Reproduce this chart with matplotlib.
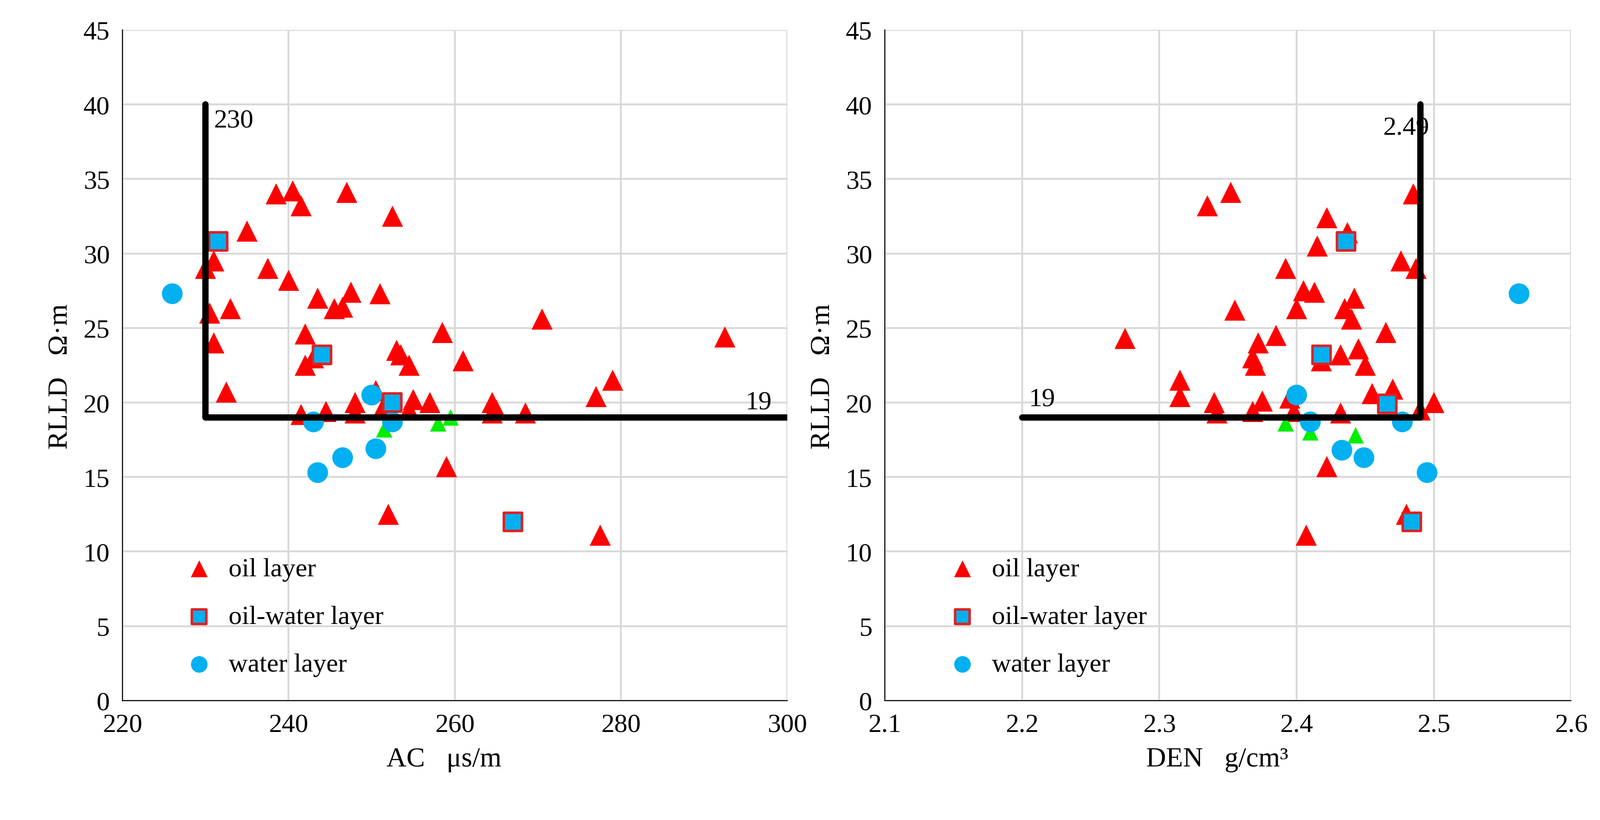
import matplotlib
matplotlib.use("Agg")
import matplotlib.pyplot as plt

plt.rcParams["font.family"] = ["Liberation Serif", "Noto Sans CJK SC"]

# Left panel: AC vs RLLD
ac_oil = [230,231,230.5,231,233,232.5,235,238.5,240.5,241.5,237.5,240,243.5,245.5,246.5,247.5,251,252.5,247,242,242,243,241.5,244.5,248,248,250.5,251.5,253,253.5,254.5,254.5,255,257,258.5,261,264.5,264.5,265,268.5,270.5,277,279,292.5,259,252,277.5]
ac_oil_r = [29,29.5,26,24,26.3,20.7,31.5,34,34.2,33.2,29,28.2,27,26.3,26.4,27.4,27.3,32.5,34.1,24.6,22.5,23,19.2,19.4,19.3,20,20.8,19.8,23.5,23.2,22.5,19.5,20.2,20,24.7,22.8,20,19.3,19.5,19.3,25.6,20.4,21.5,24.4,15.7,12.5,11.1]
ac_green = [251.5,258,259.5]
ac_green_r = [18.2,18.6,19]
ac_ow = [231.5,244,252.5,267]
ac_ow_r = [30.8,23.2,20,12]
ac_w = [226,243,243.5,246.5,250.5,250,252.5]
ac_w_r = [27.3,18.7,15.3,16.3,16.9,20.5,18.7]

# Right panel: DEN vs RLLD
den_oil = [2.275,2.315,2.315,2.335,2.352,2.34,2.342,2.355,2.368,2.37,2.372,2.368,2.375,2.385,2.392,2.395,2.398,2.4,2.405,2.413,2.415,2.418,2.422,2.432,2.432,2.435,2.437,2.44,2.442,2.445,2.45,2.455,2.465,2.47,2.476,2.485,2.487,2.49,2.5,2.422,2.407,2.48]
den_oil_r = [24.3,21.5,20.4,33.2,34.1,20,19.3,26.2,23,22.5,24,19.4,20.1,24.5,29,20.3,19.4,26.3,27.5,27.4,30.5,22.8,32.4,23.2,19.3,26.3,31.4,25.6,27,23.6,22.5,20.6,24.7,20.9,29.5,34,29,19.5,20,15.7,11.1,12.5]
den_green = [2.392,2.41,2.443]
den_green_r = [18.6,18,17.8]
den_ow = [2.436,2.418,2.466,2.484]
den_ow_r = [30.8,23.2,19.9,12]
den_w = [2.4,2.41,2.433,2.449,2.477,2.495,2.562]
den_w_r = [20.5,18.7,16.8,16.3,18.7,15.3,27.3]

fig = plt.figure(figsize=(17.64, 9.04), dpi=200)
axL = fig.add_axes([0.0765, 0.1455, 0.4155, 0.8175])
axR = fig.add_axes([0.553, 0.1455, 0.429, 0.8175])

RED = "#ff0000"; BLUE = "#00b0f0"; GREEN = "#00ee00"

def draw(ax, xo, yo, xg, yg, xs, ys, xw, yw):
    ax.scatter(xo, yo, marker="^", s=280, c=RED, edgecolors="none", zorder=3, label="oil layer")
    ax.scatter(xg, yg, marker="^", s=170, c=GREEN, edgecolors="none", zorder=3)
    ax.scatter(xs, ys, marker="s", s=210, c=BLUE, edgecolors="#e02020", linewidths=2, zorder=4, label="oil-water layer")
    ax.scatter(xw, yw, marker="o", s=270, c=BLUE, edgecolors="none", zorder=3, label="water layer")
    ax.set_ylim(0, 45)
    ax.set_yticks(range(0, 46, 5))
    ax.grid(True, color="#d9d9d9", linewidth=1.5, zorder=0)
    ax.set_axisbelow(True)
    for s in ["top", "right"]:
        ax.spines[s].set_visible(False)
    ax.tick_params(labelsize=21, direction="in", length=0, pad=10)
    ax.set_ylabel("RLLD（Ω·m）", fontsize=22, labelpad=8)
    ax.legend(loc="lower left", frameon=False, fontsize=21, handletextpad=0.1,
              labelspacing=0.9, bbox_to_anchor=(0.04, 0.0), markerscale=0.8)

draw(axL, ac_oil, ac_oil_r, ac_green, ac_green_r, ac_ow, ac_ow_r, ac_w, ac_w_r)
axL.set_xlim(220, 300)
axL.set_xticks(range(220, 301, 20))
axL.set_xlabel("AC（μs/m）", fontsize=22, labelpad=8)
axL.plot([230, 230, 300], [40, 19, 19], color="black", lw=5, zorder=5, solid_capstyle="round")
axL.text(231, 38.5, "230", fontsize=21, zorder=6)
axL.text(295, 19.6, "19", fontsize=21, zorder=6)

draw(axR, den_oil, den_oil_r, den_green, den_green_r, den_ow, den_ow_r, den_w, den_w_r)
axR.set_xlim(2.1, 2.6)
axR.set_xticks([2.1, 2.2, 2.3, 2.4, 2.5, 2.6])
axR.set_xticklabels(["2.1", "2.2", "2.3", "2.4", "2.5", "2.6"])
axR.set_xlabel("DEN（g/cm³）", fontsize=22, labelpad=8)
axR.plot([2.2, 2.49, 2.49], [19, 19, 40], color="black", lw=5, zorder=5, solid_capstyle="round")
axR.text(2.205, 19.8, "19", fontsize=21, zorder=6)
axR.text(2.463, 38.0, "2.49", fontsize=21, zorder=6)

fig.savefig("out.png", dpi=200)
